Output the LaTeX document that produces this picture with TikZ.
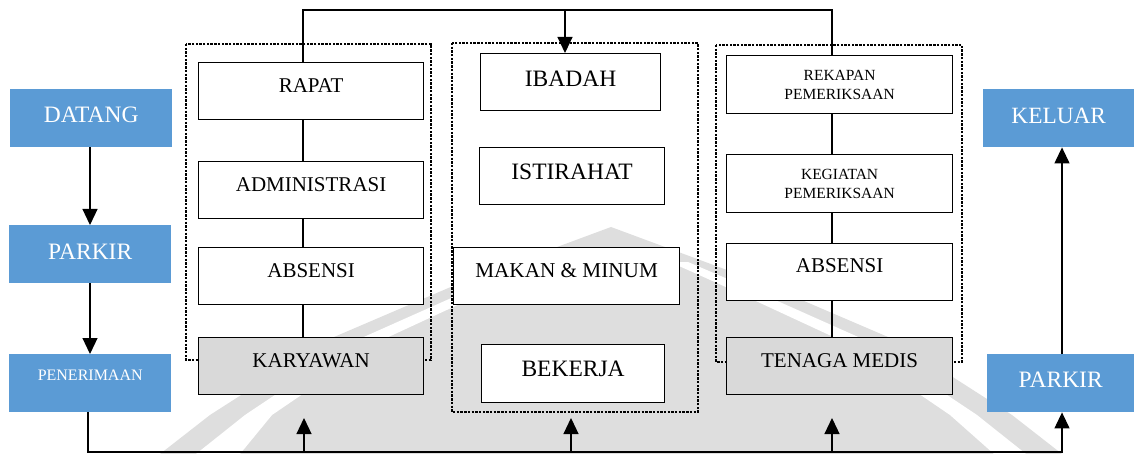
\documentclass[tikz,border=0pt]{standalone}
\usepackage{fontspec}
\setmainfont{Liberation Serif}
\usetikzlibrary{arrows.meta}

\definecolor{stepblue}{HTML}{5B9BD5}
\definecolor{actorgray}{HTML}{D9D9D9}
\definecolor{logogray}{HTML}{DEDEDE}

\newcommand{\fs}[1]{\fontsize{#1}{#1}\selectfont}

\tikzset{
  x=1pt, y=-1pt,
  flowbox/.style={fill=stepblue, draw=none, text=white, inner sep=0pt,
    anchor=north west},
  actbox/.style={draw=black, line width=1.2pt, fill=white, inner sep=0pt,
    anchor=north west},
  actorbox/.style={actbox, fill=actorgray},
  groupframe/.style={line width=2.8pt, dash pattern=on 2.4pt off 1.3pt},
  link/.style={line width=1.2pt},
  flowarrow/.style={line width=1.2pt, -{Triangle[width=15pt,length=16pt]}},
}

\begin{document}
\begin{tikzpicture}
\useasboundingbox (0,0) rectangle (1134,454);

% faint crest in the background
\fill[logogray] (611,227) -- (460,283) -- (327,340) -- (210,415) -- (160,454)
  -- (1062,454) -- (1012,415) -- (895,340) -- (762,283) -- cycle;
\fill[white] (552,262) -- (505,283) -- (382,340) -- (272,415) -- (240,454)
  -- (196,454) -- (245,415) -- (357,340) -- (485,283) -- (534,262) -- cycle;
\fill[white] (670,262) -- (717,283) -- (840,340) -- (950,415) -- (994,454)
  -- (1026,454) -- (977,415) -- (865,340) -- (737,283) -- (688,262) -- cycle;

% dotted group frames
\draw[groupframe] (186,44) rectangle (431,360);
\draw[groupframe] (452,43) rectangle (698,412);
\draw[groupframe] (716,45) rectangle (962,362);

% flow boxes
\node[flowbox, minimum width=162pt, minimum height=58pt, text height=19.7pt, text depth=10.3pt, font=\fs{23.5}] (datang) at (10,89) {DATANG};
\node[flowbox, minimum width=162pt, minimum height=58pt, text height=20pt, text depth=10pt, font=\fs{23.5}] (parkirA) at (9,225) {PARKIR};
\node[flowbox, minimum width=162pt, minimum height=58pt, text height=12pt, text depth=18pt, font=\fs{16}] (terima) at (9,354) {PENERIMAAN};
\node[flowbox, minimum width=151pt, minimum height=58pt, text height=20pt, text depth=10pt, font=\fs{23.3}] (keluar) at (983,89) {KELUAR};
\node[flowbox, minimum width=147pt, minimum height=58pt, text height=19.7pt, text depth=10.3pt, font=\fs{23.5}] (parkirB) at (987,354) {PARKIR};

% employee activities
\node[actbox, minimum width=225pt, minimum height=57pt, text height=15pt, text depth=13pt, font=\fs{21}] (rapat) at (198,62) {RAPAT};
\node[actbox, minimum width=225pt, minimum height=57pt, text height=15pt, text depth=13pt, font=\fs{21}] (admin) at (198,161) {ADMINISTRASI};
\node[actbox, minimum width=225pt, minimum height=57pt, text height=15.5pt, text depth=12.5pt, font=\fs{21}] (absenA) at (198,247) {ABSENSI};
\node[actorbox, minimum width=225pt, minimum height=57pt, text height=15.5pt, text depth=12.5pt, font=\fs{21}] (karyawan) at (198,337) {KARYAWAN};

% shared activities
\node[actbox, minimum width=180pt, minimum height=57pt, text height=18.5pt, text depth=9.5pt, font=\fs{23.5}] (ibadah) at (480,53) {IBADAH};
\node[actbox, minimum width=185pt, minimum height=57pt, text height=17.5pt, text depth=10.5pt, font=\fs{23.5}] (istirahat) at (479,147) {ISTIRAHAT};
\node[actbox, minimum width=226pt, minimum height=57pt, text height=15.5pt, text depth=12.5pt, font=\fs{21.2}] (makan) at (453,247) {MAKAN \& MINUM};
\node[actbox, minimum width=183pt, minimum height=58pt, text height=17pt, text depth=11pt, font=\fs{23.5}] (bekerja) at (481,344) {BEKERJA};

% medical staff activities
\node[actbox, minimum width=226pt, minimum height=58pt, align=center, font=\fontsize{15.5}{19}\selectfont] (rekap) at (726,55) {REKAPAN\\PEMERIKSAAN};
\node[actbox, minimum width=226pt, minimum height=58pt, align=center, font=\fontsize{15.5}{19}\selectfont] (kegiatan) at (726,154) {KEGIATAN\\PEMERIKSAAN};
\node[actbox, minimum width=226pt, minimum height=57pt, text height=14.5pt, text depth=13.5pt, font=\fs{21}] (absenB) at (726,243) {ABSENSI};
\node[actorbox, minimum width=226pt, minimum height=57pt, text height=15pt, text depth=13pt, font=\fs{21}] (medis) at (726,337) {TENAGA MEDIS};

% column axes and loose ends
\coordinate (xl) at (303,0);
\coordinate (xm) at (565,0);
\coordinate (xr) at (832,0);
\coordinate (xentry) at (90,0);
\coordinate (topL) at (303,10);
\coordinate (topR) at (832,10);
\coordinate (topM) at (565,10);
\coordinate (xexit) at (1062,0);
\coordinate (xin) at (88,0);
\coordinate (base) at (0,452);
\coordinate (tipL) at (304,418);
\coordinate (tipM) at (571,418);
\coordinate (tipR) at (832,418);

% entry flow
\draw[flowarrow] (datang.south -| xentry) -- (parkirA.north -| xentry);
\draw[flowarrow] (parkirA.south -| xentry) -- (terima.north -| xentry);

% top distribution line
\draw[link] (rapat.north -| xl) -- (topL) -- (topR) -- (rekap.north -| xr);
\draw[flowarrow] (topM) -- (ibadah.north -| xm);

% column links
\draw[link] (rapat.south -| xl) -- (admin.north -| xl);
\draw[link] (admin.south -| xl) -- (absenA.north -| xl);
\draw[link] (absenA.south -| xl) -- (karyawan.north -| xl);
\draw[link] (rekap.south -| xr) -- (kegiatan.north -| xr);
\draw[link] (kegiatan.south -| xr) -- (absenB.north -| xr);
\draw[link] (absenB.south -| xr) -- (medis.north -| xr);

% bottom return line
\draw[flowarrow] (terima.south -| xin) -- (base -| xin) -- (base -| xexit) -- (parkirB.south -| xexit);
\draw[flowarrow] (base -| tipL) -- (tipL);
\draw[flowarrow] (base -| tipM) -- (tipM);
\draw[flowarrow] (base -| tipR) -- (tipR);
\draw[flowarrow] (parkirB.north -| xexit) -- (keluar.south -| xexit);
\end{tikzpicture}
\end{document}
